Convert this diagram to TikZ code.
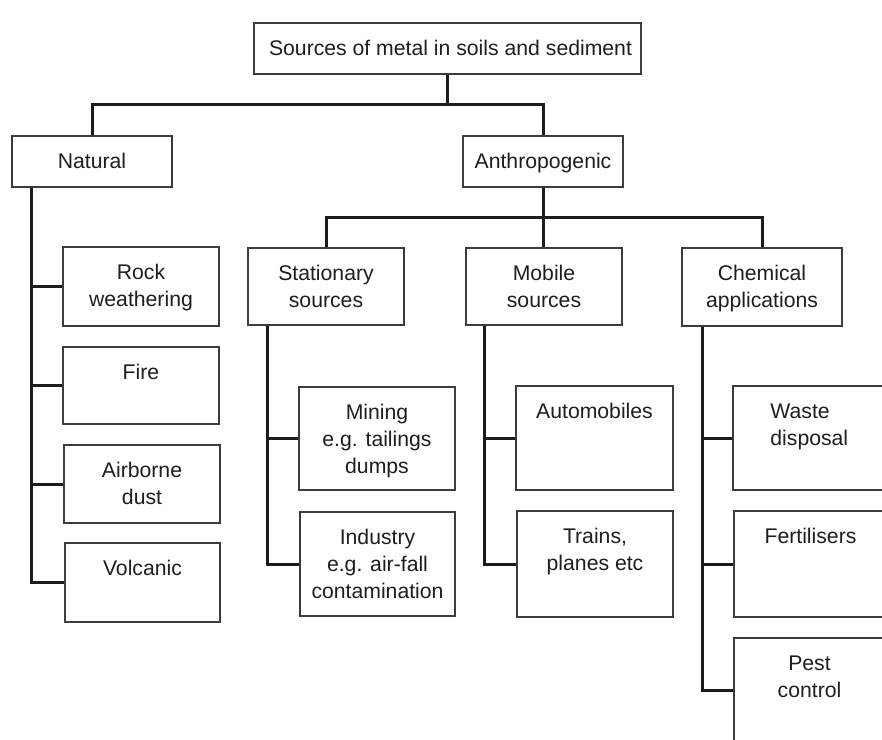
\documentclass[tikz,border=0pt]{standalone}
\usepackage{fontspec}
\setmainfont{Liberation Sans}
\usetikzlibrary{fit}
\definecolor{boxc}{HTML}{3C3C3C}
\definecolor{linec}{HTML}{1C1C1C}
\definecolor{txtc}{HTML}{1E1E1E}
\newcommand{\firstl}{\rule{0pt}{16pt}}
\begin{document}
\begin{tikzpicture}[x=1pt,y=-1pt,
  box/.style={draw=boxc, line width=1.6pt, inner sep=0pt, rectangle},
  txt/.style={inner sep=0pt, anchor=north, align=center, font=\fontsize{21.2}{27}\selectfont, text=txtc},
  conn/.style={draw=linec, line width=3pt},
]
\useasboundingbox[fill=white] (0,0) rectangle (882,739);
\clip (0,0) rectangle (882,739);

% boxes
\node[box, fit={(254,23) (641,74)}] (top) {};
\node[box, fit={(12,136) (172,187)}] (natural) {};
\node[box, fit={(463,136) (623,187)}] (anthro) {};
\node[box, fit={(63,247) (219,326)}] (rock) {};
\node[box, fit={(63,347) (219,424)}] (fire) {};
\node[box, fit={(64,445) (220,523)}] (airborne) {};
\node[box, fit={(65,543) (220,622)}] (volcanic) {};
\node[box, fit={(248,248) (404,325)}] (stationary) {};
\node[box, fit={(466,248) (622,325)}] (mobile) {};
\node[box, fit={(682,248) (842,326)}] (chemical) {};
\node[box, fit={(299,387) (455,490)}] (mining) {};
\node[box, fit={(300,512) (455,616)}] (industry) {};
\node[box, fit={(516,386) (673,490)}] (auto) {};
\node[box, fit={(517,511) (673,617)}] (trains) {};
\node[box, fit={(733,386) (889,490)}] (waste) {};
\node[box, fit={(734,511) (889,617)}] (fert) {};
\node[box, fit={(734,638) (889,742)}] (pest) {};

% texts
\node[txt] (t-top) at ([xshift=3pt,yshift=-17pt]top.north) {\firstl Sources of metal in soils and sediment};
\node[txt] (t-natural) at ([yshift=-17pt]natural.north) {\firstl Natural};
\node[txt] (t-anthro) at ([yshift=-17pt]anthro.north) {\firstl Anthropogenic};
\node[txt] (t-rock) at ([yshift=-17pt]rock.north) {\firstl Rock\\weathering};
\node[txt] (t-fire) at ([yshift=-17pt]fire.north) {\firstl Fire};
\node[txt] (t-airborne) at ([yshift=-17pt]airborne.north) {\firstl Airborne\\dust};
\node[txt] (t-volcanic) at ([yshift=-17pt]volcanic.north) {\firstl Volcanic};
\node[txt] (t-stationary) at ([yshift=-17pt]stationary.north) {\firstl Stationary\\sources};
\node[txt] (t-mobile) at ([yshift=-17pt]mobile.north) {\firstl Mobile\\sources};
\node[txt] (t-chemical) at ([yshift=-17pt]chemical.north) {\firstl Chemical\\applications};
\node[txt] (t-mining) at ([yshift=-17pt]mining.north) {\firstl Mining\\e.g. tailings\\dumps};
\node[txt] (t-industry) at ([yshift=-17pt]industry.north) {\firstl Industry\\e.g. air-fall\\contamination};
\node[txt] (t-auto) at ([yshift=-17pt]auto.north) {\firstl Automobiles};
\node[txt] (t-trains) at ([yshift=-17pt]trains.north) {\firstl Trains,\\planes etc};
\node[txt, anchor=north west, align=left] (t-waste) at ([xshift=38pt,yshift=-17pt]waste.north west) {\firstl Waste\\disposal};
\node[txt] (t-fert) at ([xshift=-1pt,yshift=-17pt]fert.north) {\firstl Fertilisers};
\node[txt] (t-pest) at ([xshift=-2pt,yshift=-17pt]pest.north) {\firstl Pest\\control};

% junctions
\coordinate (j1) at (447.5,104);
\coordinate (j2) at (543,217);
\coordinate (ns) at ([xshift=20pt]natural.south west);
\coordinate (ss) at ([xshift=20pt]stationary.south west);
\coordinate (ms) at ([xshift=19pt]mobile.south west);
\coordinate (cs) at ([xshift=21pt]chemical.south west);

% connectors
\draw[conn] (top.south) -- (j1);
\draw[conn] (natural.north) |- (j1) -| (anthro.north);
\draw[conn] (anthro.south) -- (j2);
\draw[conn] (stationary.north) |- (j2) -| (chemical.north);
\draw[conn] (j2) -- (j2 |- mobile.north);

\draw[conn] (ns) |- (volcanic.west);
\foreach \b in {rock,fire,airborne} \draw[conn] (\b.west -| ns) -- (\b.west);

\draw[conn] (ss) |- (industry.west);
\draw[conn] (mining.west -| ss) -- (mining.west);

\draw[conn] (ms) |- (trains.west);
\draw[conn] (auto.west -| ms) -- (auto.west);

\draw[conn] (cs) |- (pest.west);
\foreach \b in {waste,fert} \draw[conn] (\b.west -| cs) -- (\b.west);
\end{tikzpicture}
\end{document}
